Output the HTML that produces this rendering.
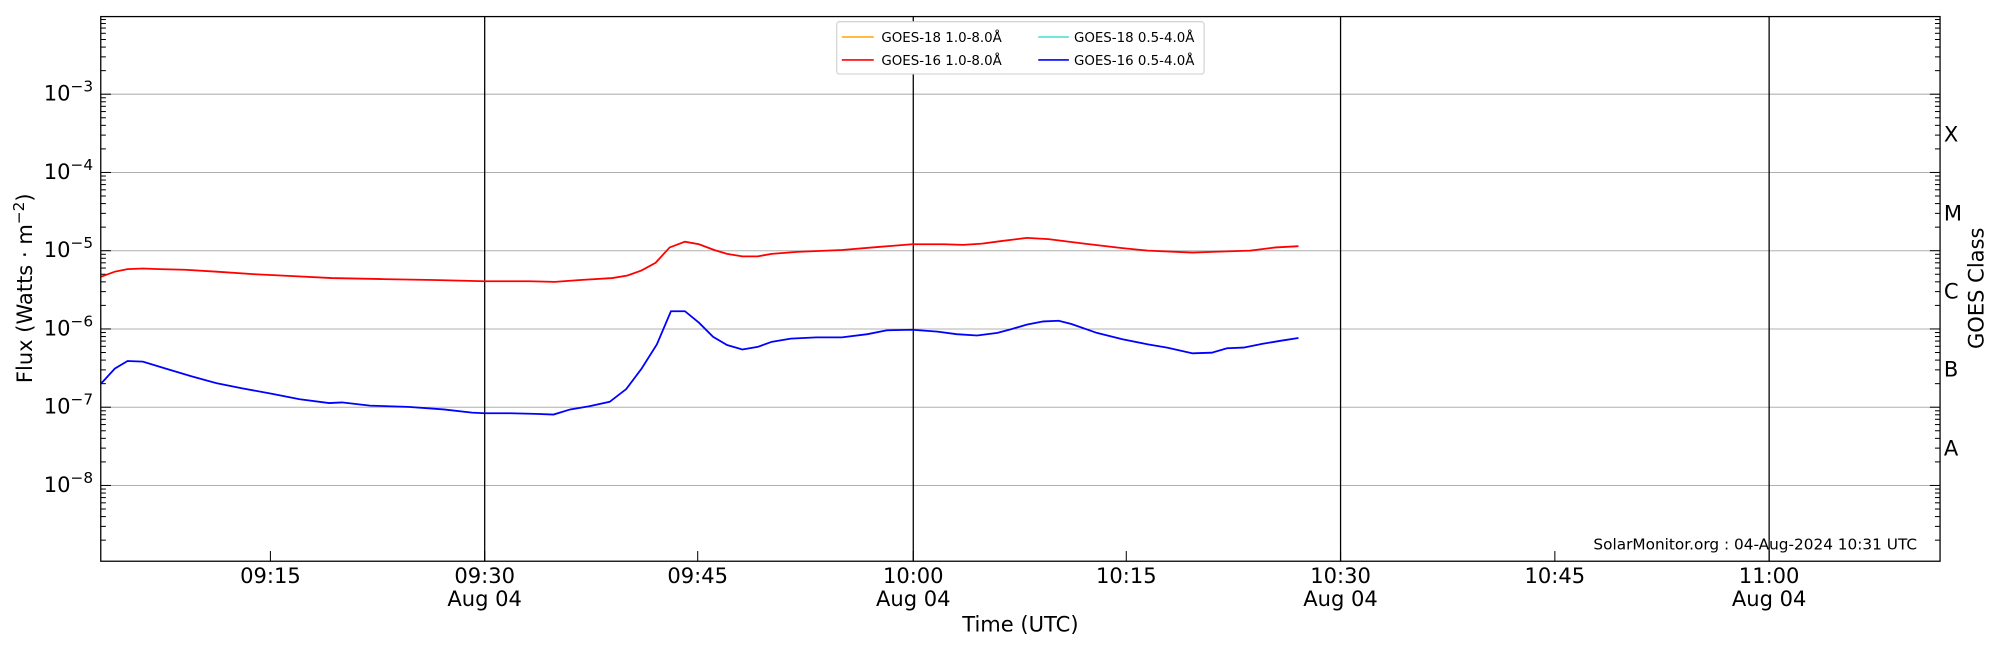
<!DOCTYPE html>
<html><head><meta charset="utf-8"><style>
html,body{margin:0;padding:0;background:#fff;width:2000px;height:650px;overflow:hidden}
svg{display:block;font-family:"DejaVu Sans","Liberation Sans",sans-serif}
</style></head><body>
<svg id="s" width="2000" height="650" viewBox="0 0 1568 509.6" xmlns="http://www.w3.org/2000/svg">
<rect width="1568" height="509.6" fill="#fff"/>
<g id="grid" stroke="#b0b0b0" stroke-width="0.8"></g>
<g stroke="#000" stroke-width="1">
<line x1="380" y1="13" x2="380" y2="440"/>
<line x1="716" y1="13" x2="716" y2="440"/>
<line x1="1051" y1="13" x2="1051" y2="440"/>
<line x1="1387" y1="13" x2="1387" y2="440"/>
</g>
<g id="ticks" stroke="#000" stroke-width="0.8"></g>
<polyline fill="none" stroke="#ff0000" stroke-width="1.4" points="79,217 90,213 100,211 112,210.5 125,211 145,211.5 170,213 200,215 230,216.5 260,218 300,218.8 340,219.5 380,220.5 415,220.5 435,221 455,219.5 480,218 492,216 503,212 514,206 525,194 537,189.5 548,191.5 560,196 570,199 582,201 594,201 605,199 625,197.5 660,196 690,193.5 715,191.5 740,191.5 755,192 770,191 785,189 805,186.5 822,187.5 850,191 880,194.5 900,196.5 935,198 950,197.5 980,196.5 1000,194 1018,193"/>
<polyline fill="none" stroke="#0000ff" stroke-width="1.4" points="79,301 90,289 100,283 112,283.5 130,289 150,295 170,300.5 190,304.5 212,308.5 235,313 258,316 268,315.5 290,318 320,319 348,321 370,323.5 380,324 400,324 420,324.5 434,325 447,321 462,318.5 478,315 491,305 503,289 515,270 526,244 537,244 548,253 559,264 570,270.5 582,274 594,272 605,268 620,265.5 640,264.5 660,264.5 680,262 695,259 715,258.5 735,260 750,262 766,263 782,261 793,258 805,254.5 818,252 830,251.5 840,254 860,261 880,266 900,270 915,272.5 935,277 950,276.5 962,273 975,272.5 990,269.5 1005,267 1018,265"/>
<rect x="79" y="13" width="1442" height="427" fill="none" stroke="#000" stroke-width="1"/>
<g font-size="16.5" fill="#000" text-anchor="end" id="ylab"></g>
<g font-size="16.5" fill="#000" text-anchor="middle">
<text x="212" y="457">09:15</text>
<text x="380" y="457">09:30</text><text x="380" y="475">Aug 04</text>
<text x="547" y="457">09:45</text>
<text x="716" y="457">10:00</text><text x="716" y="475">Aug 04</text>
<text x="883" y="457">10:15</text>
<text x="1051" y="457">10:30</text><text x="1051" y="475">Aug 04</text>
<text x="1219" y="457">10:45</text>
<text x="1387" y="457">11:00</text><text x="1387" y="475">Aug 04</text>
<text x="800" y="495">Time (UTC)</text>
<text transform="translate(25,226) rotate(-90)">Flux (Watts · m<tspan font-size="12" dy="-6">−2</tspan><tspan dy="6">)</tspan></text>
<text transform="translate(1555,226) rotate(-90)">GOES Class</text>
</g>
<g font-size="16.5" fill="#000">
<text x="1524" y="111">X</text><text x="1524" y="173">M</text><text x="1524" y="234">C</text><text x="1524" y="295">B</text><text x="1524" y="357">A</text>
</g>
<text x="1503" y="431" font-size="12" text-anchor="end">SolarMonitor.org : 04-Aug-2024 10:31 UTC</text>
<g>
<rect x="656" y="17" width="288" height="41" fill="#fff" stroke="#ccc" stroke-width="0.8" rx="2"/>
<g stroke-width="1.2">
<line x1="660" y1="29" x2="685" y2="29" stroke="#ffa500"/>
<line x1="660" y1="47" x2="685" y2="47" stroke="#ff0000"/>
<line x1="814" y1="29" x2="838" y2="29" stroke="#40e0d0"/>
<line x1="814" y1="47" x2="838" y2="47" stroke="#0000ff"/>
</g>
<g font-size="10.5" fill="#000">
<text x="691" y="33">GOES-18 1.0-8.0Å</text>
<text x="691" y="51">GOES-16 1.0-8.0Å</text>
<text x="842" y="33">GOES-18 0.5-4.0Å</text>
<text x="842" y="51">GOES-16 0.5-4.0Å</text>
</g>
</g>
</svg>
<script>
(function(){
var NS="http://www.w3.org/2000/svg";
function el(p,t,a,txt){var e=document.createElementNS(NS,t);for(var k in a)e.setAttribute(k,a[k]);if(txt){e.innerHTML=txt;}document.getElementById(p).appendChild(e);return e;}
var y0=12.5,dec=61.35;
function yv(l){return y0+(-2-l)*dec;}
for(var d=-3;d>=-8;d--){var yy=yv(d);
 el('grid','line',{x1:79,x2:1521,y1:yy,y2:yy});
 el('ylab','text',{x:73,y:yy+5},'10<tspan font-size="12" dy="-7">−'+(-d)+'</tspan>');}
for(var d=-9;d<-2;d++){for(var m=1;m<10;m++){var yy=yv(d+Math.log10(m));if(yy<13||yy>440)continue;var L=m==1?8:4;
 el('ticks','line',{x1:79,x2:79+L,y1:yy,y2:yy});el('ticks','line',{x1:1521,x2:1521-L,y1:yy,y2:yy});}}
[212,380,547,716,883,1051,1219,1387].forEach(function(x){el('ticks','line',{x1:x,x2:x,y1:440,y2:432});});
})();
</script>
</body></html>
